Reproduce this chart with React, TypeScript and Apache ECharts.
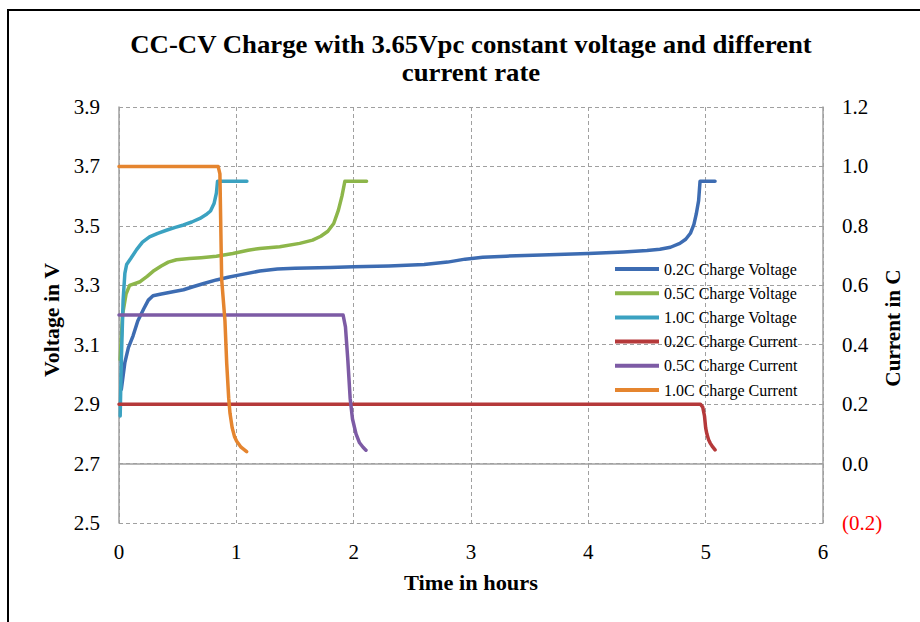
import React, { useEffect, useRef } from "react";
import * as echarts from "echarts";

const titleLines = [
  "CC-CV Charge with 3.65Vpc constant voltage and different",
  "current rate",
];
const xAxisTitle = "Time in hours";
const leftAxisTitle = "Voltage in V";
const rightAxisTitle = "Current in C";

const seriesNames = [
  "0.2C Charge Voltage",
  "0.5C Charge Voltage",
  "1.0C Charge Voltage",
  "0.2C Charge Current",
  "0.5C Charge Current",
  "1.0C Charge Current",
];
const seriesColors = ["#3D6CB2", "#8DB64A", "#3BA2C1", "#B5393A", "#7D5BA5", "#E5852F"];

// [hours, volts]
const voltage02C: [number, number][] = [
  [0.02, 2.95], [0.05, 3.04], [0.08, 3.09], [0.12, 3.13], [0.16, 3.18], [0.21, 3.22],
  [0.25, 3.25], [0.29, 3.265], [0.35, 3.27], [0.46, 3.278], [0.55, 3.285], [0.63, 3.295],
  [0.73, 3.307], [0.83, 3.318], [0.93, 3.327], [1.03, 3.335], [1.2, 3.348], [1.35, 3.355],
  [1.5, 3.357], [1.8, 3.36], [2.0, 3.362], [2.3, 3.365], [2.6, 3.37], [2.8, 3.378],
  [2.95, 3.388], [3.1, 3.394], [3.3, 3.398], [3.6, 3.402], [4.0, 3.407], [4.3, 3.412],
  [4.5, 3.417], [4.61, 3.421], [4.7, 3.428], [4.78, 3.441], [4.83, 3.455], [4.87, 3.475],
  [4.9, 3.505], [4.92, 3.54], [4.94, 3.585], [4.952, 3.65], [5.08, 3.65],
];
const voltage05C: [number, number][] = [
  [0.01, 3.05], [0.03, 3.2], [0.06, 3.27], [0.09, 3.3], [0.18, 3.312], [0.24, 3.33],
  [0.3, 3.35], [0.36, 3.365], [0.42, 3.378], [0.49, 3.386], [0.6, 3.39], [0.7, 3.393],
  [0.83, 3.398], [0.97, 3.407], [1.1, 3.418], [1.2, 3.424], [1.37, 3.43], [1.54, 3.441],
  [1.65, 3.452], [1.72, 3.465], [1.78, 3.482], [1.83, 3.508], [1.87, 3.553], [1.9, 3.6],
  [1.925, 3.65], [2.11, 3.65],
];
const voltage10C: [number, number][] = [
  [0.01, 2.86], [0.02, 3.05], [0.035, 3.25], [0.05, 3.34], [0.065, 3.37], [0.1, 3.39],
  [0.15, 3.42], [0.2, 3.445], [0.26, 3.463], [0.33, 3.475], [0.41, 3.486], [0.48, 3.495],
  [0.55, 3.503], [0.62, 3.513], [0.69, 3.525], [0.74, 3.537], [0.78, 3.55], [0.81, 3.575],
  [0.83, 3.61], [0.84, 3.65], [1.09, 3.65],
];
// [hours, C-rate]
const current02C: [number, number][] = [
  [0, 0.2], [4.955, 0.2], [4.975, 0.19], [4.99, 0.16], [5.0, 0.12], [5.01, 0.1],
  [5.025, 0.08], [5.04, 0.068], [5.06, 0.056], [5.08, 0.046],
];
const current05C: [number, number][] = [
  [0, 0.5], [1.91, 0.5], [1.93, 0.46], [1.95, 0.35], [1.97, 0.22], [1.99, 0.15],
  [2.02, 0.1], [2.05, 0.07], [2.08, 0.055], [2.105, 0.045],
];
const current10C: [number, number][] = [
  [0, 1.0], [0.845, 1.0], [0.86, 0.975], [0.875, 0.62], [0.903, 0.48], [0.918, 0.337],
  [0.935, 0.22], [0.946, 0.169], [0.965, 0.12], [0.985, 0.09], [1.003, 0.075],
  [1.04, 0.055], [1.088, 0.04],
];

const seriesData = [voltage02C, voltage05C, voltage10C, current02C, current05C, current10C];
const seriesAxis = [0, 0, 0, 1, 1, 1];

const FONT = "'Liberation Serif', 'Times New Roman', serif";
const GRID_COLOR = "#A0A0A0";

function label(text: string, x: number, y: number, size: number, scaleX: number, rotation = 0) {
  return {
    type: "text",
    x,
    y,
    rotation,
    scaleX,
    style: {
      text,
      fontFamily: FONT,
      fontSize: size,
      fontWeight: "bold",
      fill: "#000",
      textAlign: "center",
      textVerticalAlign: "middle",
    },
  };
}

export default function App() {
  const ref = useRef<HTMLDivElement>(null);
  useEffect(() => {
    const chart = echarts.init(ref.current!, null, { renderer: "svg" });
    const option: any = {
      animation: false,
      backgroundColor: "#ffffff",
      grid: { left: 119, right: 97, top: 107, bottom: 99, containLabel: false },
      xAxis: {
        type: "value",
        min: 0,
        max: 6,
        interval: 1,
        axisLine: { show: true, lineStyle: { color: GRID_COLOR, width: 1.5 } },
        axisTick: { show: false },
        axisLabel: { fontFamily: FONT, fontSize: 21, color: "#000", margin: 18 },
        splitLine: { show: true, lineStyle: { color: GRID_COLOR, type: [4, 3], width: 1 } },
      },
      yAxis: [
        {
          type: "value",
          min: 2.5,
          max: 3.9,
          interval: 0.2,
          position: "left",
          axisLine: { show: true, lineStyle: { color: GRID_COLOR, width: 1.5 } },
          axisTick: { show: false },
          axisLabel: {
            fontFamily: FONT,
            fontSize: 21,
            color: "#000",
            margin: 19,
            formatter: (v: number) => v.toFixed(1),
          },
          splitLine: { show: true, lineStyle: { color: GRID_COLOR, type: [4, 3], width: 1 } },
        },
        {
          type: "value",
          min: -0.2,
          max: 1.2,
          interval: 0.2,
          position: "right",
          axisLine: { show: true, lineStyle: { color: GRID_COLOR, width: 1.5 } },
          axisTick: { show: false },
          axisLabel: {
            fontFamily: FONT,
            fontSize: 21,
            margin: 19,
            color: (v: any) => (Number(v) < -0.001 ? "#FF0000" : "#000"),
            formatter: (v: number) =>
              v < -0.001 ? "(" + Math.abs(v).toFixed(1) + ")" : Math.abs(v).toFixed(1),
          },
          splitLine: { show: false },
        },
      ],
      legend: {
        orient: "vertical",
        left: 615,
        top: 261,
        icon: "rect",
        itemWidth: 44,
        itemHeight: 4,
        itemGap: 8.2,
        padding: 0,
        textStyle: { fontFamily: FONT, fontSize: 16, color: "#000", lineHeight: 14 },
        data: seriesNames,
      },
      series: seriesNames.map((name, i) => ({
        name,
        type: "line",
        yAxisIndex: seriesAxis[i],
        data: seriesData[i],
        symbol: "none",
        smooth: false,
        color: seriesColors[i],
        itemStyle: { color: seriesColors[i] },
        lineStyle: { width: 3.5, color: seriesColors[i], cap: "round", join: "round" },
      })),
      graphic: [
        {
          type: "rect",
          shape: { x: 8, y: 10, width: 916, height: 622 },
          style: { fill: "none", stroke: "#000", lineWidth: 2 },
          silent: true,
        },
        label(titleLines[0], 471, 44, 26, 1.03),
        label(titleLines[1], 471, 72, 26, 1.03),
        label(xAxisTitle, 471, 583, 20, 1.12),
        label(leftAxisTitle, 52, 320, 20, 1.09, Math.PI / 2),
        label(rightAxisTitle, 893, 328, 20, 1.06, Math.PI / 2),
      ],
    };
    chart.setOption(option);
    return () => chart.dispose();
  }, []);
  return (
    <div
      ref={ref}
      style={{ position: "fixed", left: 0, top: 0, width: 920, height: 622, background: "#fff" }}
    />
  );
}
